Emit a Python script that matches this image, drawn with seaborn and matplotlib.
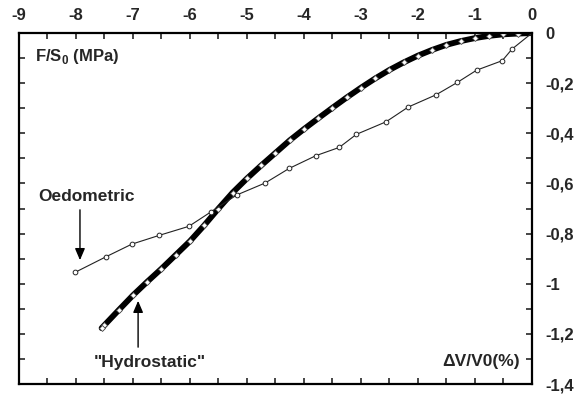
import matplotlib
matplotlib.use("Agg")
import matplotlib.pyplot as plt
from matplotlib.ticker import MultipleLocator, FixedLocator, FixedFormatter
import pandas as pd
import seaborn as sns

# Oedometric test: volumetric strain (%) vs. F/S0 (MPa)
oedo_dv = [0.0, -0.35, -0.52, -0.97, -1.31, -1.68, -2.17, -2.56, -3.08, -3.38,
           -3.79, -4.26, -4.68, -5.18, -5.63, -6.02, -6.54, -7.02, -7.47, -8.02]
oedo_fs = [0.0, -0.064, -0.110, -0.148, -0.197, -0.246, -0.295, -0.354, -0.404, -0.456,
           -0.489, -0.540, -0.598, -0.646, -0.713, -0.771, -0.807, -0.842, -0.892, -0.955]

# "Hydrostatic" test
hydro_dv = [0.0, -0.25, -0.5, -0.75, -1.0, -1.25, -1.5, -1.75, -2.0, -2.25,
            -2.5, -2.75, -3.0, -3.25, -3.5, -3.75, -4.0, -4.25, -4.5, -4.75,
            -5.0, -5.25, -5.5, -5.75, -6.0, -6.25, -6.5, -6.75, -7.0, -7.25,
            -7.5, -7.55]
hydro_fs = [0.0, -0.002, -0.005, -0.011, -0.020, -0.032, -0.047, -0.067, -0.090, -0.117,
            -0.147, -0.181, -0.218, -0.257, -0.298, -0.340, -0.383, -0.428, -0.478, -0.528,
            -0.580, -0.636, -0.700, -0.767, -0.830, -0.885, -0.940, -0.992, -1.046, -1.105,
            -1.165, -1.177]

x_ticks = [-9, -8, -7, -6, -5, -4, -3, -2, -1, 0]
x_tick_labels = ["-9", "-8", "-7", "-6", "-5", "-4", "-3", "-2", "-1", "0"]
y_ticks = [0, -0.2, -0.4, -0.6, -0.8, -1.0, -1.2, -1.4]
y_tick_labels = ["0", "-0,2", "-0,4", "-0,6", "-0,8", "-1", "-1,2", "-1,4"]

oedo = pd.DataFrame({"dv": oedo_dv, "fs": oedo_fs})
hydro = pd.DataFrame({"dv": hydro_dv, "fs": hydro_fs})

sns.set_style("ticks")
plt.rcParams["font.family"] = ["Liberation Sans", "DejaVu Sans"]
plt.rcParams["font.weight"] = "bold"
plt.rcParams["mathtext.fontset"] = "custom"
plt.rcParams["mathtext.rm"] = "Liberation Sans:bold"
plt.rcParams["mathtext.bf"] = "Liberation Sans:bold"

fig = plt.figure(figsize=(5.77, 3.97), dpi=100)
ax = fig.add_axes([0.0329, 0.0327, 0.889, 0.884])

sns.lineplot(data=hydro, x="dv", y="fs", ax=ax, sort=False, color="black",
             linewidth=4.2, marker="D", markersize=3.0, markerfacecolor="white",
             markeredgecolor="#444444", markeredgewidth=0.6)
sns.lineplot(data=oedo, x="dv", y="fs", ax=ax, sort=False, color="#222222",
             linewidth=0.8, marker="o", markersize=3.4, markerfacecolor="white",
             markeredgecolor="#222222", markeredgewidth=0.7)

ax.set_xlim(-9, 0)
ax.set_ylim(-1.4, 0)
ax.set_xlabel("")
ax.set_ylabel("")

for s in ax.spines.values():
    s.set_linewidth(1.6)
    s.set_color("black")

ax.xaxis.set_major_locator(FixedLocator(x_ticks))
ax.xaxis.set_major_formatter(FixedFormatter(x_tick_labels))
ax.xaxis.set_minor_locator(MultipleLocator(0.5))
ax.yaxis.set_major_locator(FixedLocator(y_ticks))
ax.yaxis.set_major_formatter(FixedFormatter(y_tick_labels))
ax.yaxis.set_minor_locator(MultipleLocator(0.1))

ax.tick_params(axis="x", which="both", direction="in", length=4, width=1.2,
               top=True, bottom=True, labeltop=True, labelbottom=False, pad=7)
ax.tick_params(axis="y", which="both", direction="in", length=4, width=1.2,
               left=True, right=True, labelleft=False, labelright=True, pad=10)
for lab in ax.get_xticklabels() + ax.get_yticklabels():
    lab.set_fontsize(12)
    lab.set_fontweight("bold")

ax.text(0.031, 0.932, r"F/S$_{0}$ (MPa)", transform=ax.transAxes,
        ha="left", va="center", fontsize=12, fontweight="bold")
ax.text(0.977, 0.0635, "\u0394V/V0(%)", transform=ax.transAxes,
        ha="right", va="center", fontsize=12.5, fontweight="bold")

ax.annotate("", xy=(-7.93, -0.917), xytext=(-7.93, -0.694),
            arrowprops=dict(arrowstyle="-|>,head_length=0.7,head_width=0.3",
                            color="black", lw=1.0))
ax.text(-7.82, -0.652, "Oedometric", ha="center", va="center",
        fontsize=12.5, fontweight="bold")

ax.annotate("", xy=(-6.91, -1.057), xytext=(-6.91, -1.264),
            arrowprops=dict(arrowstyle="-|>,head_length=0.7,head_width=0.3",
                            color="black", lw=1.0))
ax.text(-6.70, -1.316, "\"Hydrostatic\"", ha="center", va="center",
        fontsize=12.5, fontweight="bold")

fig.savefig("out.png", dpi=100)
